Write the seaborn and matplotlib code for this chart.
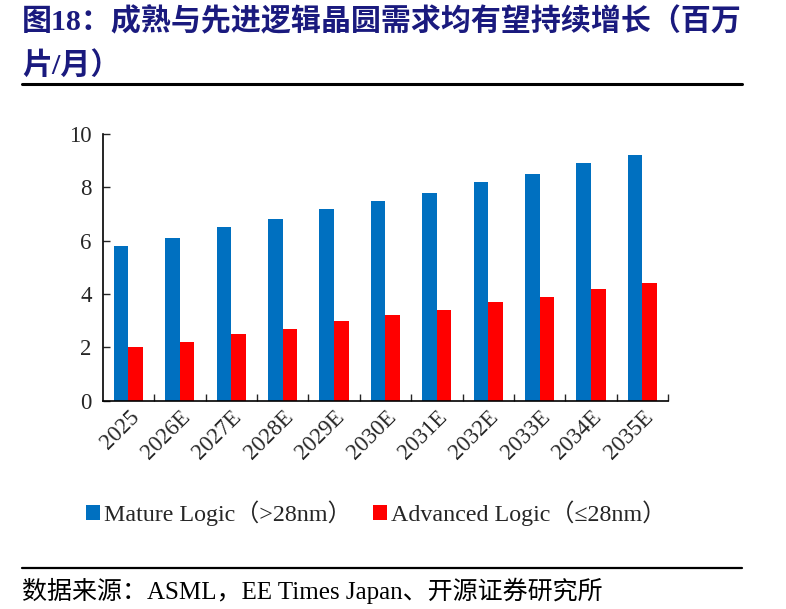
import pandas as pd
import matplotlib.pyplot as plt
import seaborn as sns
from matplotlib.ticker import FixedLocator
from matplotlib.lines import Line2D

sns.set_style('white')
plt.rcParams['font.family'] = ['Liberation Serif', 'Noto Sans CJK SC']

# data (百万片/月)
years = ['2025', '2026E', '2027E', '2028E', '2029E', '2030E',
         '2031E', '2032E', '2033E', '2034E', '2035E']
mature = [5.8, 6.1, 6.5, 6.8, 7.2, 7.5, 7.8, 8.2, 8.5, 8.9, 9.2]
advanced = [2.0, 2.2, 2.5, 2.7, 3.0, 3.2, 3.4, 3.7, 3.9, 4.2, 4.4]
series_names = ['Mature Logic（>28nm）', 'Advanced Logic（≤28nm）']
colors = ['#0070C0', '#FF0000']

df = pd.DataFrame({'year': years * 2,
                   'value': mature + advanced,
                   'series': [series_names[0]] * len(years) + [series_names[1]] * len(years)})

fig = plt.figure(figsize=(7.86, 6.09), dpi=100)
ax = fig.add_axes([0.1307, 0.342, 0.7193, 0.438])

sns.barplot(data=df, x='year', y='value', hue='series', palette=colors,
            width=0.57, gap=0, saturation=1, linewidth=0, edgecolor='none',
            ax=ax, legend=True)

ax.set_xlim(-0.5, len(years) - 0.5)
ax.set_ylim(0, 10)
ax.set_yticks([0, 2, 4, 6, 8, 10])
ax.set_xlabel('')
ax.set_ylabel('')
for s in ['top', 'right']:
    ax.spines[s].set_visible(False)
for s in ['left', 'bottom']:
    ax.spines[s].set_color('black')
    ax.spines[s].set_linewidth(1.2)

ax.tick_params(axis='y', direction='in', length=5, width=1, labelsize=16.5, pad=8, left=True)
ax.tick_params(axis='x', which='major', length=0, labelsize=16.5, pad=4)
ax.xaxis.set_minor_locator(FixedLocator([i + 0.5 for i in range(len(years))]))
ax.tick_params(axis='x', which='minor', direction='in', length=5, width=1, bottom=True)
for lab in ax.get_xticklabels():
    lab.set_rotation(45)
    lab.set_ha('right')
    lab.set_rotation_mode('anchor')

ax.legend(loc='center', bbox_to_anchor=(0.478, 0.157), bbox_transform=fig.transFigure,
          ncol=2, frameon=False, fontsize=17.3, handlelength=0.6, handleheight=0.6,
          handletextpad=0.15, columnspacing=0.9)

# title and source
title_c = '#1A1A7E'
fig.text(0.028, 0.965, '图18：成熟与先进逻辑晶圆需求均有望持续增长（百万', fontsize=21.6,
         fontweight='bold', color=title_c, va='center', ha='left')
fig.text(0.028, 0.893, '片/月）', fontsize=21.6, fontweight='bold', color=title_c,
         va='center', ha='left')
fig.add_artist(Line2D([0.028, 0.944], [0.862, 0.862], color='black', lw=2.2,
                      transform=fig.transFigure))
fig.add_artist(Line2D([0.028, 0.944], [0.067, 0.067], color='black', lw=1.6,
                      transform=fig.transFigure))
fig.text(0.028, 0.030, '数据来源：ASML，EE Times Japan、开源证券研究所', fontsize=18,
         color='black', va='center', ha='left')

fig.savefig('out.png', dpi=100)
